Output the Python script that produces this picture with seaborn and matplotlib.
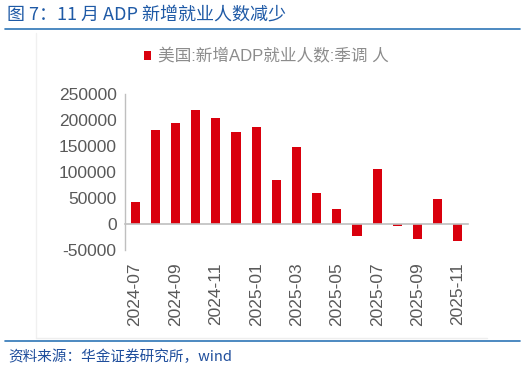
import numpy as np
import pandas as pd
import matplotlib
matplotlib.use("Agg")
import matplotlib.pyplot as plt
import seaborn as sns
from matplotlib.lines import Line2D
from matplotlib.patches import Patch

months = ["2024-07", "2024-08", "2024-09", "2024-10", "2024-11", "2024-12",
          "2025-01", "2025-02", "2025-03", "2025-04", "2025-05", "2025-06",
          "2025-07", "2025-08", "2025-09", "2025-10", "2025-11"]
adp = [42000, 180000, 194000, 220000, 204000, 176000,
       186000, 84000, 148000, 59000, 29000, -23000,
       105000, -3000, -29000, 48000, -32000]
yticks = [-50000, 0, 50000, 100000, 150000, 200000, 250000]

title = "图 7：11 月 ADP 新增就业人数减少"
series_name = "美国:新增ADP就业人数:季调 人"
source = "资料来源：华金证券研究所，wind"

sns.set_style("white")
plt.rcParams["font.family"] = ["Liberation Sans", "Noto Sans CJK SC", "DejaVu Sans"]

df = pd.DataFrame({"month": months, "value": adp})

W, H = 527, 370
fig = plt.figure(figsize=(W / 100, H / 100), dpi=100)
ax = fig.add_axes([125 / W, 1 - 250 / H, (468 - 125) / W, (250 - 94) / H])

red = "#d9000d"
grey = "#bfbfbf"
txt_grey = "#595959"

sns.barplot(data=df, x="month", y="value", color=red, saturation=1,
            width=0.45, linewidth=0, ax=ax)

ax.set_ylim(-50000, 250000)
ax.set_xlim(-0.5, len(months) - 0.5)
ax.set_yticks(yticks)
ax.set_yticklabels([str(v) for v in yticks])
ax.set_xlabel("")
ax.set_ylabel("")

for s in ["top", "right"]:
    ax.spines[s].set_visible(False)
ax.spines["left"].set_color(grey)
ax.spines["bottom"].set_color(grey)
ax.spines["bottom"].set_position(("data", 0))
ax.spines["left"].set_linewidth(1)
ax.spines["bottom"].set_linewidth(1.2)

# labels every 2 months, tick marks between bars
ax.set_xticks(range(0, len(months), 2))
ax.set_xticklabels(months[::2], rotation=90)
ax.set_xticks(np.arange(1.5, len(months) - 1, 2), minor=True)
ax.tick_params(axis="x", which="major", length=0, pad=27.5,
               labelsize=12.5, labelcolor=txt_grey)
ax.tick_params(axis="x", which="minor", length=4, width=1, color=grey,
               direction="out")
ax.tick_params(axis="y", length=4, width=1, color=grey, direction="out",
               labelsize=12.5, labelcolor=txt_grey, pad=2)

# legend
handle = Patch(facecolor=red, edgecolor="none", label=series_name)
fig.legend(handles=[handle], loc="center", bbox_to_anchor=(266 / W, 1 - 56 / H),
           frameon=False, fontsize=12, handlelength=0.45, handleheight=0.45,
           handletextpad=0.4, labelcolor="#8c8c8c")

# title, rules and source
fig.text(7 / W, 1 - 15 / H, title, fontsize=13, color="#1f5aa6",
         family=["Noto Sans CJK SC", "DejaVu Sans"], va="center", ha="left")
fig.add_artist(Line2D([5 / W, 520 / W], [1 - 28.5 / H] * 2, color="#2e75b6",
                      lw=1.2, transform=fig.transFigure))
fig.add_artist(Line2D([5 / W, 520 / W], [1 - 341 / H] * 2, color="#2e75b6",
                      lw=1.2, transform=fig.transFigure))
fig.add_artist(Line2D([36 / W, 36 / W], [1 - 33 / H, 1 - 338 / H], color="#f0f0f0",
                      lw=1, transform=fig.transFigure))
fig.add_artist(Line2D([36 / W, 487 / W], [1 - 338 / H] * 2, color="#eeeeee",
                      lw=1, transform=fig.transFigure))
fig.text(8 / W, 1 - 357 / H, source, fontsize=10.5, color="#1f4e9c",
         family=["Noto Sans CJK SC", "DejaVu Sans"], style="italic",
         va="center", ha="left")

fig.savefig("out.png", dpi=100, facecolor="white")
